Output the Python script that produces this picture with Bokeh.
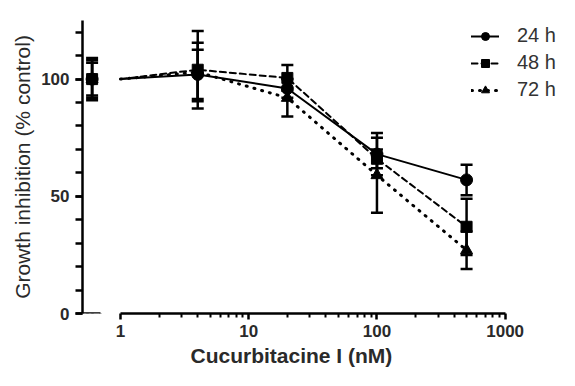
from bokeh.plotting import figure
from bokeh.models import (ColumnDataSource, Whisker, TeeHead, FixedTicker, Title,
                          LogAxis, Legend, LegendItem, NumeralTickFormatter)
from bokeh.embed import file_html
from bokeh.resources import INLINE

# ---- data ----
CONTROL_X = 0.6            # position of the untreated control on the broken axis
CONC = [4, 20, 100, 500]   # nM
AXIS_START = 1             # start of the concentration segment
SERIES = ["24 h", "48 h", "72 h"]
V24 = [100, 102, 96, 68, 57]
E24 = [9, 10.5, 4, 9, 6.5]
V48 = [100, 104, 100.5, 66, 37]
E48 = [7, 16.5, 5.5, 4, 12]
V72 = [100, 103, 92, 59, 27]
E72 = [8, 12.5, 8, 16, 8]
Y_MAJOR = [0, 50, 100]
Y_MINOR = [0, 10, 20, 30, 40, 50, 60, 70, 80, 90, 100, 110, 120]
X_MAJOR = [1, 10, 100, 1000]
X_LABEL = "Cucurbitacine I (nM)"
Y_LABEL = "Growth inhibition (% control)"

X_RANGE = (0.505, 2800)
Y_RANGE = (0, 125)

FONT = "Liberation Sans"
TXT = "#2a2a2a"

p = figure(width=567, height=378, x_axis_type="log", x_range=X_RANGE, y_range=Y_RANGE,
           output_backend="svg", toolbar_location=None,
           min_border_left=82, min_border_right=5, min_border_top=20, min_border_bottom=65)
p.outline_line_color = None
p.grid.grid_line_color = None
p.background_fill_color = "white"

# axes
xa = p.xaxis[0]
xa.bounds = (1, 1000)
xa.ticker = FixedTicker(ticks=X_MAJOR,
                        minor_ticks=[m * d for d in [1, 10, 100] for m in range(2, 10)])
xa.formatter = NumeralTickFormatter(format="0")
xa.axis_line_width = 2.5
xa.major_tick_line_width = 2.5
xa.minor_tick_line_width = 2
xa.major_tick_out = 6
xa.major_tick_in = 0
xa.minor_tick_out = 4
xa.minor_tick_in = 0
xa.major_label_text_font = FONT
xa.major_label_text_font_style = "bold"
xa.major_label_text_font_size = "17px"
xa.major_label_text_color = TXT
xa.major_label_standoff = 5

# x-axis title centred under the 1-1000 segment
xt = Title(text=X_LABEL, align="left", offset=108, standoff=4,
           text_font=FONT, text_font_style="bold", text_font_size="21px",
           text_color=TXT)
p.add_layout(xt, "below")

ya = p.yaxis[0]
ya.bounds = Y_RANGE
ya.ticker = FixedTicker(ticks=Y_MAJOR, minor_ticks=Y_MINOR)
ya.axis_line_width = 2.5
ya.major_tick_line_width = 2.5
ya.minor_tick_line_width = 2.5
ya.major_tick_out = 7
ya.major_tick_in = 0
ya.minor_tick_out = 7
ya.minor_tick_in = 0
ya.major_label_text_font = FONT
ya.major_label_text_font_style = "bold"
ya.major_label_text_font_size = "17px"
ya.major_label_text_color = TXT
ya.major_label_standoff = 6
ya.axis_label = Y_LABEL
ya.axis_label_text_font = FONT
ya.axis_label_text_font_style = "normal"
ya.axis_label_text_font_size = "21px"
ya.axis_label_text_color = TXT
ya.axis_label_standoff = 4

# short control segment of the broken x axis
seg = LogAxis(bounds=(X_RANGE[0], 0.7), fixed_location=0,
              ticker=FixedTicker(ticks=[], minor_ticks=[0.55, 0.6, 0.7]))
seg.axis_line_width = 2.5
seg.minor_tick_line_width = 2.5
seg.minor_tick_out = 5
seg.minor_tick_in = 0
seg.major_label_text_font_size = "0px"
p.add_layout(seg, "below")

# series
styles = [
    dict(values=V24, errs=E24, dash="solid", marker="circle", size=12, width=2),
    dict(values=V48, errs=E48, dash="6 4", marker="square", size=11, width=2),
    dict(values=V72, errs=E72, dash="1 7", marker="triangle", size=12, width=3),
]
mx = [CONTROL_X] + CONC
lx = [AXIS_START] + CONC
items = []
for name, st in zip(SERIES, styles):
    vals, errs = st["values"], st["errs"]
    line = p.line(lx, vals, line_color="black", line_width=st["width"],
                  line_dash=st["dash"], line_cap="round")
    src = ColumnDataSource(dict(x=mx, y=vals,
                                upper=[v + e for v, e in zip(vals, errs)],
                                lower=[v - e for v, e in zip(vals, errs)]))
    w = Whisker(base="x", upper="upper", lower="lower", source=src, dimension="height",
                line_color="black", line_width=2.5,
                upper_head=TeeHead(size=12, line_width=2.5, line_color="black"),
                lower_head=TeeHead(size=12, line_width=2.5, line_color="black"))
    p.add_layout(w)
    sc = p.scatter("x", "y", source=src, marker=st["marker"], size=st["size"],
                   fill_color="black", line_color="black")
    items.append(LegendItem(label=name, renderers=[line, sc]))

legend = Legend(items=items, location=(389, 212), border_line_color=None,
                background_fill_alpha=0, margin=0, padding=7, spacing=4,
                glyph_width=28, glyph_height=20, label_height=20, label_standoff=18,
                label_text_font=FONT, label_text_font_size="20px", label_text_color="#333333")
p.add_layout(legend)

open("out.html", "w").write(file_html(p, INLINE))
